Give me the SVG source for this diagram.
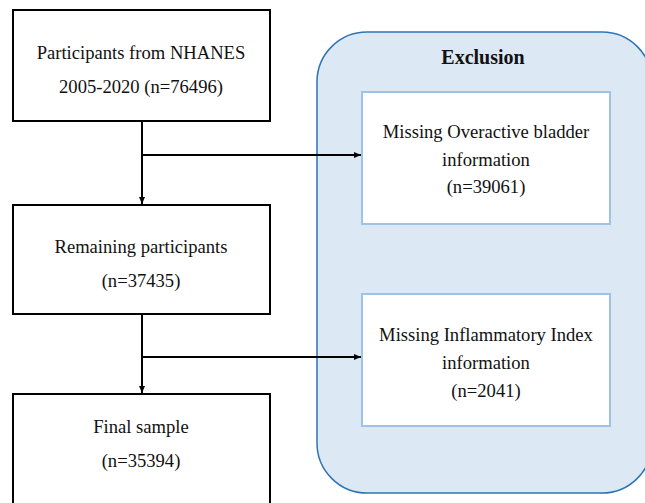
<svg xmlns="http://www.w3.org/2000/svg" width="645" height="503" viewBox="0 0 645 503">
<defs>
<marker id="ah" markerWidth="8" markerHeight="8" refX="7" refY="4" orient="auto" markerUnits="userSpaceOnUse">
<path d="M0,1 L7,4 L0,7 z" fill="#000"/>
</marker>
<style>
.box{fill:#fff;stroke:#000;stroke-width:2}
.ibox{fill:#fff;stroke:#9dc3e6;stroke-width:2}
.t{font-family:"Liberation Serif","Times New Roman",serif;font-size:18.6px;fill:#111;text-anchor:middle}
.h{font-family:"Liberation Serif","Times New Roman",serif;font-size:20px;font-weight:bold;fill:#111;text-anchor:middle}
.c{fill:none;stroke:#000;stroke-width:2}
</style>
</defs>
<rect width="645" height="503" fill="#fff"/>
<g id="exclusion">
<rect x="317" y="32" width="335" height="461" rx="50" ry="50" fill="#dde8f5" stroke="#2e75b6" stroke-width="1.5"/>
<text class="h" x="483" y="64">Exclusion</text>
</g>
<g id="n1">
<rect class="box" x="13" y="10" width="257" height="111"/>
<text class="t" x="141" y="59">Participants from NHANES</text>
<text class="t" x="141" y="93">2005-2020 (n=76496)</text>
</g>
<g id="n2">
<rect class="box" x="13" y="205" width="257" height="109"/>
<text class="t" x="141" y="253">Remaining participants</text>
<text class="t" x="141" y="287">(n=37435)</text>
</g>
<g id="n3">
<rect class="box" x="13" y="394" width="257" height="120"/>
<text class="t" x="141" y="433">Final sample</text>
<text class="t" x="141" y="467">(n=35394)</text>
</g>
<g id="e1">
<rect class="ibox" x="362" y="92" width="248" height="132"/>
<text class="t" x="486" y="138">Missing Overactive bladder</text>
<text class="t" x="486" y="166">information</text>
<text class="t" x="486" y="193">(n=39061)</text>
</g>
<g id="e2">
<rect class="ibox" x="362" y="294" width="248" height="132"/>
<text class="t" x="486" y="341">Missing Inflammatory Index</text>
<text class="t" x="486" y="369">information</text>
<text class="t" x="486" y="397">(n=2041)</text>
</g>
<g id="connectors">
<line class="c" x1="142" y1="121" x2="142" y2="204" marker-end="url(#ah)"/>
<line class="c" x1="142" y1="155" x2="361" y2="155" marker-end="url(#ah)"/>
<line class="c" x1="142" y1="314" x2="142" y2="393" marker-end="url(#ah)"/>
<line class="c" x1="142" y1="357" x2="361" y2="357" marker-end="url(#ah)"/>
</g>
</svg>
